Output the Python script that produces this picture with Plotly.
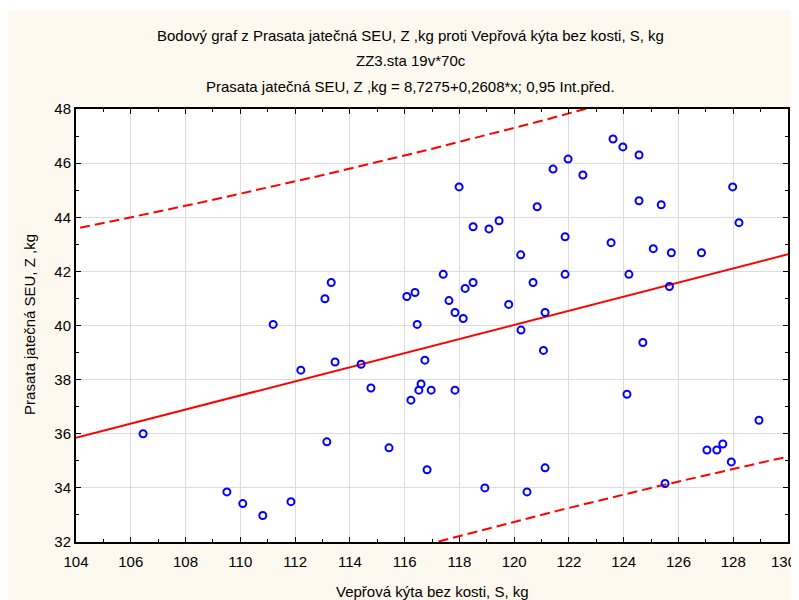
import numpy as np
import plotly.graph_objects as go

# Data (Vepřová kýta bez kosti S, kg  vs  Prasata jatečná SEU Z, kg)
x_vals = [106.45, 109.51, 110.09, 110.82, 111.2, 111.85, 112.21, 113.09, 113.16, 113.32,
          113.46, 114.41, 114.77, 115.43, 116.08, 116.23, 116.38, 116.46, 116.52, 116.6,
          116.74, 116.82, 116.97, 117.41, 117.62, 117.84, 117.84, 117.99, 118.14, 118.21,
          118.5, 118.5, 118.93, 119.08, 119.45, 119.8, 120.24, 120.25, 120.47, 120.69,
          120.84, 121.07, 121.13, 121.13, 121.42, 121.86, 121.86, 121.97, 122.51, 123.54,
          123.61, 123.97, 124.12, 124.19, 124.56, 124.56, 124.7, 125.08, 125.37, 125.51,
          125.67, 125.74, 126.84, 127.04, 127.4, 127.62, 127.93, 127.98, 128.21, 128.94]
y_vals = [36.0, 33.85, 33.42, 32.98, 40.04, 33.49, 38.35, 40.99, 35.7, 41.59,
          38.65, 38.57, 37.69, 35.48, 41.07, 37.24, 41.22, 40.04, 37.61, 37.84,
          38.72, 34.67, 37.61, 41.89, 40.92, 40.48, 37.61, 45.12, 40.26, 41.37,
          43.65, 41.59, 34.0, 43.57, 43.87, 40.78, 42.61, 39.83, 33.85, 41.59,
          44.39, 39.08, 40.48, 34.74, 45.78, 43.28, 41.89, 46.15, 45.56, 43.06,
          46.89, 46.6, 37.46, 41.89, 46.3, 44.61, 39.37, 42.84, 44.46, 34.16,
          41.44, 42.69, 42.69, 35.4, 35.4, 35.62, 34.96, 45.12, 43.8, 36.5]

intercept = 8.7275
slope = 0.2608
conf_t = 1.9955  # t(0.975, n-2=68)

x_ticks = list(range(104, 131, 2))
y_ticks = list(range(32, 49, 2))

title1 = "Bodový graf z Prasata jatečná SEU, Z ,kg proti Vepřová kýta bez kosti, S, kg"
title2 = "ZZ3.sta 19v*70c"
title3 = "Prasata jatečná SEU, Z ,kg = 8,7275+0,2608*x; 0,95 Int.před."
x_title = "Vepřová kýta bez kosti, S, kg"
y_title = "Prasata jatečná SEU, Z ,kg"

# prediction interval
xa = np.array(x_vals)
ya = np.array(y_vals)
n = len(xa)
res = ya - (intercept + slope * xa)
s = np.sqrt(np.sum(res ** 2) / (n - 2))
xbar = xa.mean()
sxx = np.sum((xa - xbar) ** 2)
xs = np.linspace(102, 132, 300)
yhat = intercept + slope * xs
half = conf_t * s * np.sqrt(1 + 1 / n + (xs - xbar) ** 2 / sxx)

FONT = "Liberation Sans, Arial, sans-serif"
OFF = 8  # page body margin
W, H = 791, 592
L, R, T, B = 68, 10.5, 101.3, 58
pw, ph = W - L - R, H - T - B


def px_to_paper(px, py):
    # px, py given in screenshot coordinates
    fx, fy = px - OFF, py - OFF
    return (fx - L) / pw, (H - B - fy) / ph


fig = go.Figure()
fig.add_trace(go.Scatter(x=xs, y=yhat + half, mode="lines",
                         line=dict(color="#FF0000", width=2, dash="10px,5px"), hoverinfo="skip"))
fig.add_trace(go.Scatter(x=xs, y=yhat - half, mode="lines",
                         line=dict(color="#FF0000", width=2, dash="10px,5px"), hoverinfo="skip"))
fig.add_trace(go.Scatter(x=xs, y=yhat, mode="lines",
                         line=dict(color="#FF0000", width=2), hoverinfo="skip"))
fig.add_trace(go.Scatter(x=x_vals, y=y_vals, mode="markers",
                         marker=dict(symbol="circle-open", size=7, color="#0000FF",
                                     line=dict(width=2, color="#0000FF"))))

axis_common = dict(showline=True, linecolor="black", linewidth=2, mirror="ticks",
                   ticks="inside", ticklen=5, tickwidth=1, tickcolor="black",
                   showgrid=True, gridcolor="#DCDCDC", gridwidth=1, zeroline=False,
                   tickfont=dict(family=FONT, size=15, color="black"))

# the last x label sits at the very edge; it is drawn as an annotation kept inside the picture
x_ticktext = [str(v) for v in x_ticks[:-1]] + [""]
fig.update_xaxes(range=[104, 130], tickvals=x_ticks, ticktext=x_ticktext,
                 ticklabelstandoff=5,
                 minor=dict(dtick=1, tick0=104, ticks="inside", ticklen=3, tickcolor="black", showgrid=False),
                 **axis_common)
fig.update_yaxes(range=[32, 48], tickvals=y_ticks, ticktext=[str(v) for v in y_ticks],
                 minor=dict(dtick=1, tick0=32, ticks="inside", ticklen=3, tickcolor="black", showgrid=False),
                 **axis_common)

annotations = []
for txt, cy in [(title1, 36), (title2, 61), (title3, 87)]:
    ax_, ay_ = px_to_paper(411, cy)
    annotations.append(dict(text=txt, x=ax_, y=ay_, xref="paper", yref="paper",
                            showarrow=False, xanchor="center", yanchor="middle",
                            font=dict(family=FONT, size=15, color="black")))
ax_, ay_ = px_to_paper(433, 591)
annotations.append(dict(text=x_title, x=ax_, y=ay_, xref="paper", yref="paper", showarrow=False,
                        xanchor="center", yanchor="middle", font=dict(family=FONT, size=15, color="black")))
ax_, ay_ = px_to_paper(30, 325)
annotations.append(dict(text=y_title, x=ax_, y=ay_, xref="paper", yref="paper", showarrow=False,
                        textangle=-90, xanchor="center", yanchor="middle",
                        font=dict(family=FONT, size=15, color="black")))
ax_, ay_ = px_to_paper(798, 561)
annotations.append(dict(text=str(x_ticks[-1]), x=ax_, y=ay_, xref="paper", yref="paper", showarrow=False,
                        xanchor="right", yanchor="middle", borderpad=0,
                        font=dict(family=FONT, size=15, color="black")))

# thin white strip at the top of the picture
x0p, _ = px_to_paper(0, 0)
x1p, _ = px_to_paper(810, 0)
_, y11p = px_to_paper(0, 11)
_, ytopp = px_to_paper(0, 0)
shapes = [
    dict(type="rect", xref="paper", yref="paper", x0=x0p, x1=x1p, y0=y11p, y1=ytopp,
         fillcolor="white", line=dict(width=0), layer="above"),
]

fig.update_layout(width=W, height=H, margin=dict(l=L, r=R, t=T, b=B, autoexpand=False),
                  paper_bgcolor="#FEF9EE", plot_bgcolor="white", showlegend=False,
                  annotations=annotations, shapes=shapes,
                  font=dict(family=FONT, size=15, color="black"))

fig.write_html("out.html")
